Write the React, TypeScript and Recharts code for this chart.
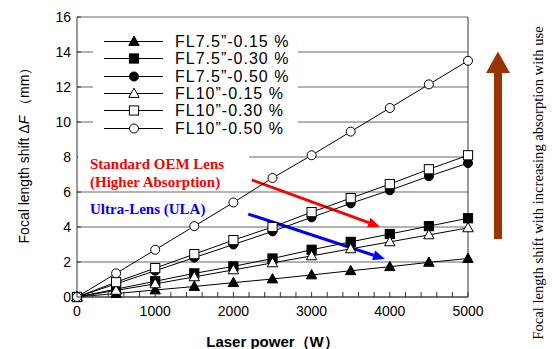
import React from 'react';
import { LineChart, Line, XAxis, YAxis, CartesianGrid, ReferenceLine, Legend } from 'recharts';

// ---------- data ----------
const power = [0, 500, 1000, 1500, 2000, 2500, 3000, 3500, 4000, 4500, 5000];
const fl75_015 = [0, 0.2, 0.4, 0.6, 0.82, 1.03, 1.26, 1.5, 1.73, 1.98, 2.2];
const fl75_030 = [0, 0.45, 0.9, 1.35, 1.75, 2.2, 2.7, 3.15, 3.6, 4.05, 4.5];
const fl75_050 = [0, 0.75, 1.5, 2.25, 3.0, 3.75, 4.55, 5.35, 6.1, 6.9, 7.65];
const fl10_015 = [0, 0.38, 0.75, 1.15, 1.55, 1.95, 2.35, 2.75, 3.15, 3.55, 3.95];
const fl10_030 = [0, 0.85, 1.65, 2.45, 3.25, 4.0, 4.85, 5.65, 6.45, 7.3, 8.1];
const fl10_050 = [0, 1.35, 2.7, 4.05, 5.4, 6.8, 8.1, 9.45, 10.8, 12.15, 13.5];

const seriesNames = [
  'FL7.5\u201D-0.15 %',
  'FL7.5\u201D-0.30 %',
  'FL7.5\u201D-0.50 %',
  'FL10\u201D-0.15 %',
  'FL10\u201D-0.30 %',
  'FL10\u201D-0.50 %',
];

const xTicks = [0, 200, 400, 600, 800, 1000, 1200, 1400, 1600, 1800, 2000, 2200, 2400, 2600, 2800, 3000,
  3200, 3400, 3600, 3800, 4000, 4200, 4400, 4600, 4800, 5000];
const xLabelTicks = [0, 1000, 2000, 3000, 4000, 5000];
const yTicks = [0, 2, 4, 6, 8, 10, 12, 14, 16];

const oemArrow = [{ x: 2234, y: 6.69 }, { x: 3875, y: 4.02 }];
const ulaArrow = [{ x: 2190, y: 4.74 }, { x: 3939, y: 2.17 }];

const xTitle = 'Laser power\uFF08W\uFF09';
const yTitle = 'Focal length shift';
const rightText = 'Focal length shift with increasing absorption with use';
const oemText = ['Standard OEM Lens', '(Higher Absorption)'];
const ulaText = 'Ultra-Lens (ULA)';

const values = [fl75_015, fl75_030, fl75_050, fl10_015, fl10_030, fl10_050];
const data = power.map((p, i) => {
  const row: any = { power: p };
  values.forEach((arr, k) => { row['s' + k] = arr[i]; });
  return row;
});

const series = [
  { key: 's0', name: seriesNames[0], shape: 'triangle', filled: true },
  { key: 's1', name: seriesNames[1], shape: 'square', filled: true },
  { key: 's2', name: seriesNames[2], shape: 'circle', filled: true },
  { key: 's3', name: seriesNames[3], shape: 'triangle', filled: false },
  { key: 's4', name: seriesNames[4], shape: 'square', filled: false },
  { key: 's5', name: seriesNames[5], shape: 'circle', filled: false },
];

const SANS = '"Liberation Sans", Arial, Helvetica, sans-serif';
const SERIF = '"Liberation Serif", "Times New Roman", serif';

function Marker({ cx, cy, shape, filled }: any) {
  const fill = filled ? '#000' : '#fff';
  if (cx == null || cy == null) return null;
  if (shape === 'circle') return <circle cx={cx} cy={cy} r={4.5} fill={fill} stroke="#000" strokeWidth={1} />;
  if (shape === 'square') return <rect x={cx - 4.6} y={cy - 4.6} width={9.2} height={9.2} fill={fill} stroke="#000" strokeWidth={1} />;
  return (
    <polygon
      points={`${cx},${cy - 5.4} ${cx - 5.2},${cy + 3.9} ${cx + 5.2},${cy + 3.9}`}
      fill={fill}
      stroke="#000"
      strokeWidth={1}
    />
  );
}

const XTick = (props: any) => {
  const { x, y, payload } = props;
  const v = payload.value;
  return (
    <g>
      <line x1={x} x2={x} y1={y} y2={y - 5} stroke="#333" strokeWidth={1} />
      {xLabelTicks.includes(v) && (
        <text x={x} y={y + 19} textAnchor="middle" fontSize={14} fontFamily={SANS} fill="#000">
          {v}
        </text>
      )}
    </g>
  );
};

const YTick = (props: any) => {
  const { x, y, payload } = props;
  return (
    <g>
      <line x1={x} x2={x + 4} y1={y} y2={y} stroke="#333" strokeWidth={1} />
      <text x={x - 6} y={y + 5} textAnchor="end" fontSize={14} fontFamily={SANS} fill="#000">
        {payload.value}
      </text>
    </g>
  );
};

const YTitle = (props: any) => {
  const vb = props.viewBox || {};
  const cx = vb.x + 24;
  const cy = vb.y + vb.height / 2 - 5;
  return (
    <text
      x={cx}
      y={cy}
      transform={`rotate(-90, ${cx}, ${cy})`}
      textAnchor="middle"
      dominantBaseline="central"
      fontSize={14}
      fontFamily={SANS}
      fill="#000"
    >
      {yTitle} {'\u0394'}
      <tspan fontStyle="italic">F</tspan> {'\uFF08mm\uFF09'}
    </text>
  );
};

const XTitle = (props: any) => {
  const vb = props.viewBox || {};
  return (
    <text
      x={vb.x + vb.width / 2}
      y={vb.y + 50}
      textAnchor="middle"
      fontSize={15}
      fontWeight="bold"
      fontFamily={SANS}
      fill="#000"
    >
      {xTitle}
    </text>
  );
};

const makeArrow = (color: string) => (props: any) => {
  const { x1, y1, x2, y2 } = props;
  const ang = Math.atan2(y2 - y1, x2 - x1);
  const L = 12;
  const W = 5;
  const bx = x2 - L * Math.cos(ang);
  const by = y2 - L * Math.sin(ang);
  const px = -Math.sin(ang) * W;
  const py = Math.cos(ang) * W;
  return (
    <g>
      <line x1={x1} y1={y1} x2={bx} y2={by} stroke={color} strokeWidth={3} />
      <polygon points={`${x2},${y2} ${bx + px},${by + py} ${bx - px},${by - py}`} fill={color} />
    </g>
  );
};

const LegendContent = () => (
  <div style={{ background: '#fff', padding: '4px 0 4px 11px', fontFamily: SANS }}>
    {series.map((s) => (
      <div key={s.key} style={{ display: 'flex', alignItems: 'center', height: 17.4 }}>
        <svg width={71} height={17} style={{ display: 'block' }}>
          <line x1={0} x2={59} y1={8.5} y2={8.5} stroke="#000" strokeWidth={1.2} />
          <Marker cx={30} cy={8.5} shape={s.shape} filled={s.filled} />
        </svg>
        <span style={{ fontSize: 16, letterSpacing: 1, color: '#000', whiteSpace: 'nowrap', lineHeight: '17px' }}>
          {s.name}
        </span>
      </div>
    ))}
  </div>
);

export default function App() {
  return (
    <div style={{ position: 'absolute', left: 0, top: 0, width: 556, height: 349, background: '#fff', fontFamily: SANS }}>
      <LineChart width={556} height={349} data={data} margin={{ top: 17, right: 88, bottom: 0, left: 0 }}>
        <CartesianGrid vertical={false} stroke="#666" strokeWidth={1} />
        <XAxis
          dataKey="power"
          type="number"
          domain={[0, 5000]}
          ticks={xTicks}
          interval={0}
          height={52}
          tickSize={0}
          tickMargin={0}
          tickLine={false}
          axisLine={{ stroke: '#333', strokeWidth: 1 }}
          tick={<XTick />}
          label={<XTitle />}
        />
        <YAxis
          type="number"
          domain={[0, 16]}
          ticks={yTicks}
          interval={0}
          width={77}
          tickSize={0}
          tickMargin={0}
          tickLine={false}
          axisLine={{ stroke: '#333', strokeWidth: 1 }}
          tick={<YTick />}
          label={<YTitle />}
        />
        <ReferenceLine x={5000} stroke="#333" strokeWidth={1} />
        <ReferenceLine segment={oemArrow} shape={makeArrow('#ff0000')} />
        <ReferenceLine segment={ulaArrow} shape={makeArrow('#0000ff')} />
        {series.map((s) => (
          <Line
            key={s.key}
            dataKey={s.key}
            name={s.name}
            stroke="#000"
            strokeWidth={1}
            isAnimationActive={false}
            dot={(p: any) => <Marker key={`${s.key}-${p.index}`} cx={p.cx} cy={p.cy} shape={s.shape} filled={s.filled} />}
            activeDot={false}
          />
        ))}
        <Legend
          layout="vertical"
          align="center"
          verticalAlign="middle"
          content={<LegendContent />}
          wrapperStyle={{ position: 'absolute', left: 93, top: 28.6, width: 205, height: 'auto' }}
        />
      </LineChart>

      {/* OEM annotation text with white box */}
      <div
        style={{
          position: 'absolute', left: 78, top: 152, width: 171, height: 38, background: '#fff',
          fontFamily: SERIF, fontWeight: 'bold', fontSize: 15, color: '#ff0000', lineHeight: '17.5px',
          paddingLeft: 12, boxSizing: 'border-box', paddingTop: 4, whiteSpace: 'nowrap',
        }}
      >
        <div>{oemText[0]}</div>
        <div>{oemText[1]}</div>
      </div>
      <div
        style={{
          position: 'absolute', left: 90, top: 200, fontFamily: SERIF, fontWeight: 'bold', fontSize: 15,
          color: '#0000ff', lineHeight: '18px', whiteSpace: 'nowrap',
        }}
      >
        {ulaText}
      </div>

      {/* right side arrow and caption */}
      <svg width={556} height={349} style={{ position: 'absolute', left: 0, top: 0, pointerEvents: 'none' }}>
        <rect x={494} y={72} width={8} height={167} fill="#993300" />
        <polygon points="498,51.5 486,73 510,73" fill="#993300" />
        <text
          x={538}
          y={183}
          transform="rotate(-90, 538, 183)"
          textAnchor="middle"
          dominantBaseline="central"
          fontSize={14.6}
          fontFamily={SERIF}
          fill="#000"
        >
          {rightText}
        </text>
      </svg>
    </div>
  );
}
